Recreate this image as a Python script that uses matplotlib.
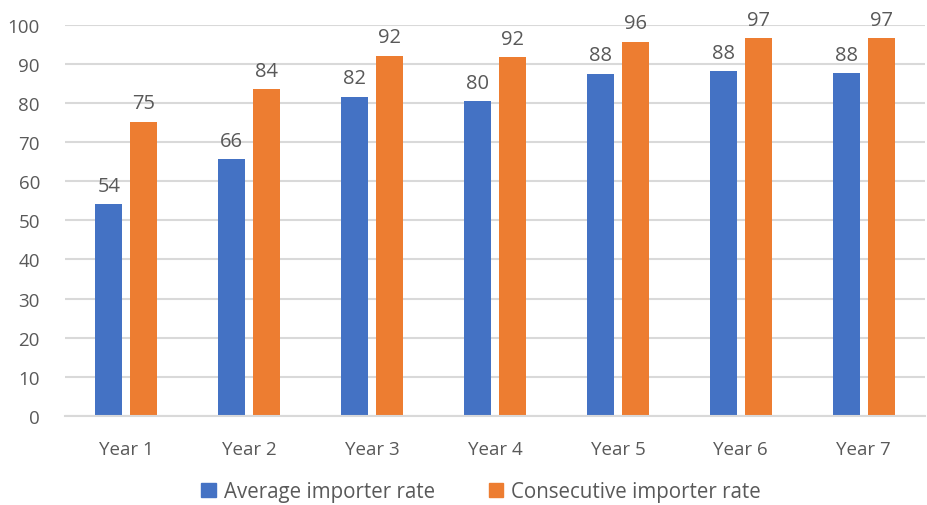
import numpy as np
import matplotlib
matplotlib.use("Agg")
import matplotlib.pyplot as plt
from matplotlib.patches import Patch

# values (bar heights; labels show them rounded)
years = ["Year 1", "Year 2", "Year 3", "Year 4", "Year 5", "Year 6", "Year 7"]
average_rate = [54.2, 65.6, 81.6, 80.4, 87.5, 88.2, 87.6]
consecutive_rate = [75.2, 83.6, 92.1, 91.7, 95.7, 96.6, 96.6]
y_ticks = [0, 10, 20, 30, 40, 50, 60, 70, 80, 90, 100]

BLUE = "#4472C4"
ORANGE = "#ED7D31"
GREY = "#595959"
GRID = "#D9D9D9"

plt.rcParams['font.family'] = ['Open Sans', 'DejaVu Sans']

fig = plt.figure(figsize=(9.27, 5.06), dpi=100)
ax = fig.add_axes([0.070, 0.176, 0.928, 0.773])

x = np.arange(len(years))
w = 0.22
off = 0.143

b1 = ax.bar(x - off, average_rate, w, color=BLUE, zorder=3)
b2 = ax.bar(x + off, consecutive_rate, w, color=ORANGE, zorder=3)

ax.bar_label(b1, fmt="%.0f", padding=6, fontsize=14.5, color=GREY)
ax.bar_label(b2, fmt="%.0f", padding=6, fontsize=14.5, color=GREY)

ax.set_ylim(0, 100)
ax.set_xlim(-0.5, len(years) - 0.5)
ax.set_yticks(y_ticks)
ax.set_xticks(x)
ax.set_xticklabels(years)
ax.tick_params(axis='both', length=0, labelsize=13.5, labelcolor=GREY)
ax.tick_params(axis='y', pad=18)
ax.tick_params(axis='x', pad=17)

ax.grid(axis='y', color=GRID, linewidth=1.5, zorder=0)
for s in ["top", "right", "left"]:
    ax.spines[s].set_visible(False)
ax.spines["bottom"].set_color(GRID)
ax.spines["bottom"].set_linewidth(1.5)
ax.spines["bottom"].set_zorder(4)

handles = [Patch(color=BLUE), Patch(color=ORANGE)]
fig.legend(handles, ["Average importer rate", "Consecutive importer rate"],
           loc="center", bbox_to_anchor=(0.519, 0.026), ncol=2,
           frameon=False, fontsize=14.8, labelcolor=GREY,
           handlelength=0.7, handleheight=0.7, handletextpad=0.4,
           columnspacing=2.6)

fig.savefig("out.png", dpi=100)
